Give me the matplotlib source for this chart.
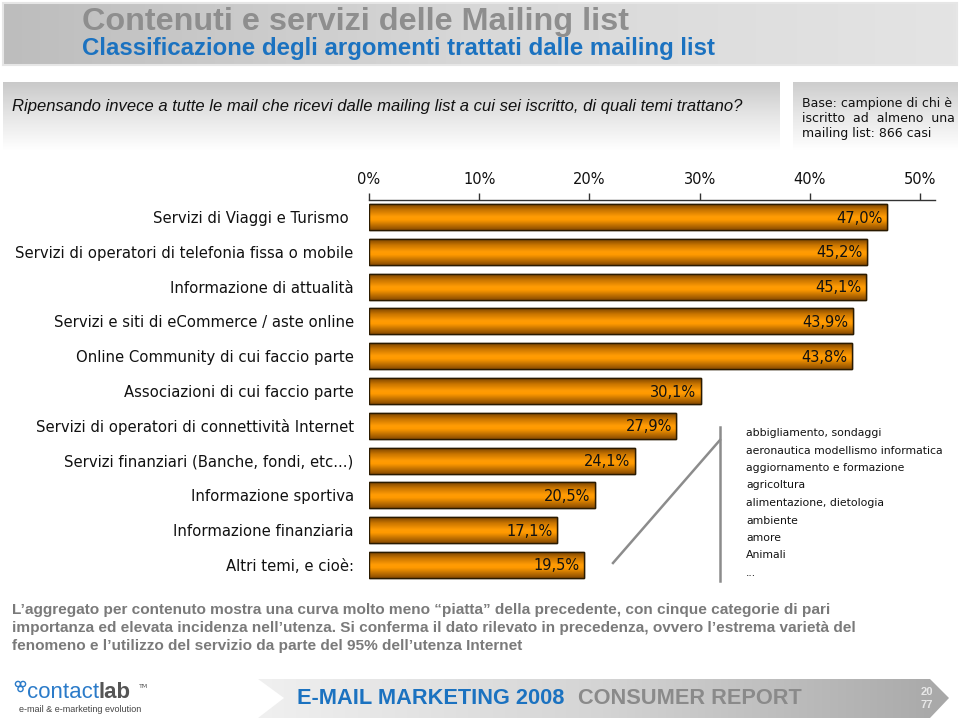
import matplotlib
matplotlib.use("Agg")
import matplotlib.pyplot as plt
import numpy as np
from matplotlib import font_manager
from matplotlib.colors import LinearSegmentedColormap
from matplotlib.patches import Polygon, Rectangle, Circle

# dati del grafico
categorie = [
    "Servizi di Viaggi e Turismo ",
    "Servizi di operatori di telefonia fissa o mobile",
    "Informazione di attualità",
    "Servizi e siti di eCommerce / aste online",
    "Online Community di cui faccio parte",
    "Associazioni di cui faccio parte",
    "Servizi di operatori di connettività Internet",
    "Servizi finanziari (Banche, fondi, etc...)",
    "Informazione sportiva",
    "Informazione finanziaria",
    "Altri temi, e cioè:",
]
valori = [47.0, 45.2, 45.1, 43.9, 43.8, 30.1, 27.9, 24.1, 20.5, 17.1, 19.5]
tick_valori = [0, 10, 20, 30, 40, 50]
altri_temi = [
    "abbigliamento, sondaggi",
    "aeronautica modellismo informatica",
    "aggiornamento e formazione",
    "agricoltura",
    "alimentazione, dietologia",
    "ambiente",
    "amore",
    "Animali",
    "...",
]

titolo = "Contenuti e servizi delle Mailing list"
sottotitolo = "Classificazione degli argomenti trattati dalle mailing list"
domanda = ("Ripensando invece a tutte le mail che ricevi dalle mailing list "
           "a cui sei iscritto, di quali temi trattano?")
base = ["Base: campione di chi è", "iscritto  ad  almeno  una", "mailing list: 866 casi"]
commento = [
    "L\u2019aggregato per contenuto mostra una curva molto meno \u201cpiatta\u201d della precedente, con cinque categorie di pari",
    "importanza ed elevata incidenza nell\u2019utenza. Si conferma il dato rilevato in precedenza, ovvero l\u2019estrema varietà del",
    "fenomeno e l\u2019utilizzo del servizio da parte del 95% dell\u2019utenza Internet",
]

nomi = {f.name for f in font_manager.fontManager.ttflist}
NARROW = "Liberation Sans Narrow" if "Liberation Sans Narrow" in nomi else "Liberation Sans"
SANS = "DejaVu Sans"

W, H = 960, 719
fig = plt.figure(figsize=(W / 100, H / 100), dpi=100)
fig.patch.set_facecolor("white")

# asse di sfondo in pixel per decorazioni
bg = fig.add_axes([0, 0, 1, 1])
bg.set_xlim(0, W)
bg.set_ylim(H, 0)
bg.axis("off")


def riempi(ax, punti, colori, verticale=True, z=1):
    poly = Polygon(punti, closed=True, facecolor="none", edgecolor="none", zorder=z)
    ax.add_patch(poly)
    xs = [p[0] for p in punti]
    ys = [p[1] for p in punti]
    cm = LinearSegmentedColormap.from_list("g", colori)
    g = np.linspace(0, 1, 256)
    arr = g.reshape(-1, 1) if verticale else g.reshape(1, -1)
    im = ax.imshow(arr, cmap=cm, aspect="auto", origin="upper",
                   extent=(min(xs), max(xs), max(ys), min(ys)), zorder=z)
    im.set_clip_path(poly)
    return poly


# intestazione
riempi(bg, [(3, 3), (957, 3), (957, 65), (3, 65)], ["#bdbdbd", "#d8d8d8", "#e4e4e4"], verticale=False)
bg.add_patch(Rectangle((3, 3), 954, 62, fill=False, edgecolor="#e6e6e6", lw=1.5, zorder=2))
bg.text(82, 22, titolo, fontsize=23.3, fontweight="bold", color="#8e8e8e",
        family=[NARROW, SANS], va="center", ha="left", zorder=3)
bg.text(82, 48, sottotitolo, fontsize=17.3, fontweight="bold", color="#1b72c0",
        family=[NARROW, SANS], va="center", ha="left", zorder=3)

# riquadro domanda e base
riempi(bg, [(3, 82), (780, 82), (780, 150), (3, 150)], ["#c9c9c9", "#e6e6e6", "#ffffff"])
riempi(bg, [(793, 82), (958, 82), (958, 150), (793, 150)], ["#cdcdcd", "#e8e8e8", "#ffffff"])
bg.text(12, 107, domanda, fontsize=12, style="italic", color="#111111",
        family=["Liberation Sans", SANS], va="center", ha="left", zorder=3)
for i, riga in enumerate(base):
    bg.text(802, 104 + i * 14.5, riga, fontsize=9, color="#111111",
            family=[SANS], va="center", ha="left", zorder=3)

# grafico a barre
x0, x50 = 369, 920
xr = 935
ax = fig.add_axes([x0 / W, 1 - 582 / H, (xr - x0) / W, (582 - 200) / H])
ax.set_facecolor("none")
xmax = 50 * (xr - x0) / (x50 - x0)
y = np.arange(len(categorie))
h = 0.75
barre = ax.barh(y, valori, height=h, color="#ff9900", edgecolor="#2a1a00", lw=1, zorder=2)
cmap_barra = LinearSegmentedColormap.from_list(
    "b", [(0, "#6e3c00"), (0.25, "#c87400"), (0.5, "#ff9c05"), (0.62, "#ff9a00"), (1, "#8a4c00")])
for b, v, yi in zip(barre, valori, y):
    im = ax.imshow(np.linspace(0, 1, 64).reshape(-1, 1), cmap=cmap_barra, aspect="auto",
                   origin="upper", extent=(0, v, yi + h / 2, yi - h / 2), zorder=2.5)
    im.set_clip_path(b)
    ax.barh(yi, v, height=h, color="none", edgecolor="#2a1a00", lw=1, zorder=3)
    ax.text(v - 0.4, yi + 0.03, f"{v:.1f}%".replace(".", ","), ha="right", va="center",
            fontsize=10.5, color="#111111", family=SANS, zorder=4)

ax.set_xlim(0, xmax)
ax.set_ylim(len(categorie) - 1 + 0.49, -0.49)
ax.xaxis.tick_top()
ax.set_xticks(tick_valori)
ax.set_xticklabels([f"{t}%" for t in tick_valori], fontsize=10.5, color="#111111", family=SANS)
ax.tick_params(axis="x", direction="out", length=5, width=1, color="#333333", pad=4)
ax.set_yticks(y)
ax.set_yticklabels(categorie, fontsize=10.7, color="#111111", family=SANS)
ax.tick_params(axis="y", length=0, pad=11)
for s in ["left", "right", "bottom"]:
    ax.spines[s].set_visible(False)
ax.spines["top"].set_color("#333333")
ax.spines["top"].set_linewidth(1)

# parentesi per "Altri temi"
bg.plot([613, 720], [563, 440], color="#8c8c8c", lw=1.8, zorder=2)
bg.plot([720, 720], [427, 581], color="#8c8c8c", lw=1.8, zorder=2)
for i, t in enumerate(altri_temi):
    bg.text(746, 433 + i * 17.5, t, fontsize=7.8, color="#111111", family=SANS,
            va="center", ha="left", zorder=3)

# commento
for i, riga in enumerate(commento):
    bg.text(12, 610 + i * 18, riga, fontsize=11.05, fontweight="bold", color="#7a7a7a",
            family=["Liberation Sans", SANS], va="center", ha="left", zorder=3)

# logo
for cx, cy in [(18, 684), (23, 684), (20.5, 689)]:
    bg.add_patch(Circle((cx, cy), 2.6, fill=False, edgecolor="#2b7bc9", lw=1, zorder=3))
bg.text(27, 693, "contact", fontsize=16, color="#2b7bc9", family=["Liberation Sans", SANS],
        va="center", ha="left", zorder=3)
bg.text(99, 693, "lab", fontsize=16, fontweight="bold", color="#555555",
        family=["Liberation Sans", SANS], va="center", ha="left", zorder=3)
bg.text(139, 686, "TM", fontsize=4.5, color="#555555", va="center", ha="left", zorder=3)
bg.text(80, 710, "e-mail & e-marketing evolution", fontsize=6.5, color="#444444",
        family=[NARROW, SANS], va="center", ha="center", zorder=3)

# banda finale
riempi(bg, [(258, 679), (930, 679), (949, 698), (930, 718), (258, 718), (284, 698)],
       ["#f0f0f0", "#d4d4d4", "#a8a8a8"], verticale=False)
bg.text(297, 699, "E-MAIL MARKETING 2008", fontsize=15.7, fontweight="bold", color="#1b72c0",
        family=[NARROW, SANS], va="center", ha="left", zorder=3)
bg.text(578, 699, "CONSUMER REPORT", fontsize=15.7, fontweight="bold", color="#8a8a8a",
        family=[NARROW, SANS], va="center", ha="left", zorder=3)
bg.text(927, 692, "20", fontsize=8, fontweight="bold", color="#e8e8e8",
        family=[NARROW, SANS], va="center", ha="center", zorder=3)
bg.text(927, 705, "77", fontsize=8, fontweight="bold", color="#e8e8e8",
        family=[NARROW, SANS], va="center", ha="center", zorder=3)

fig.savefig("out.png", dpi=100)
